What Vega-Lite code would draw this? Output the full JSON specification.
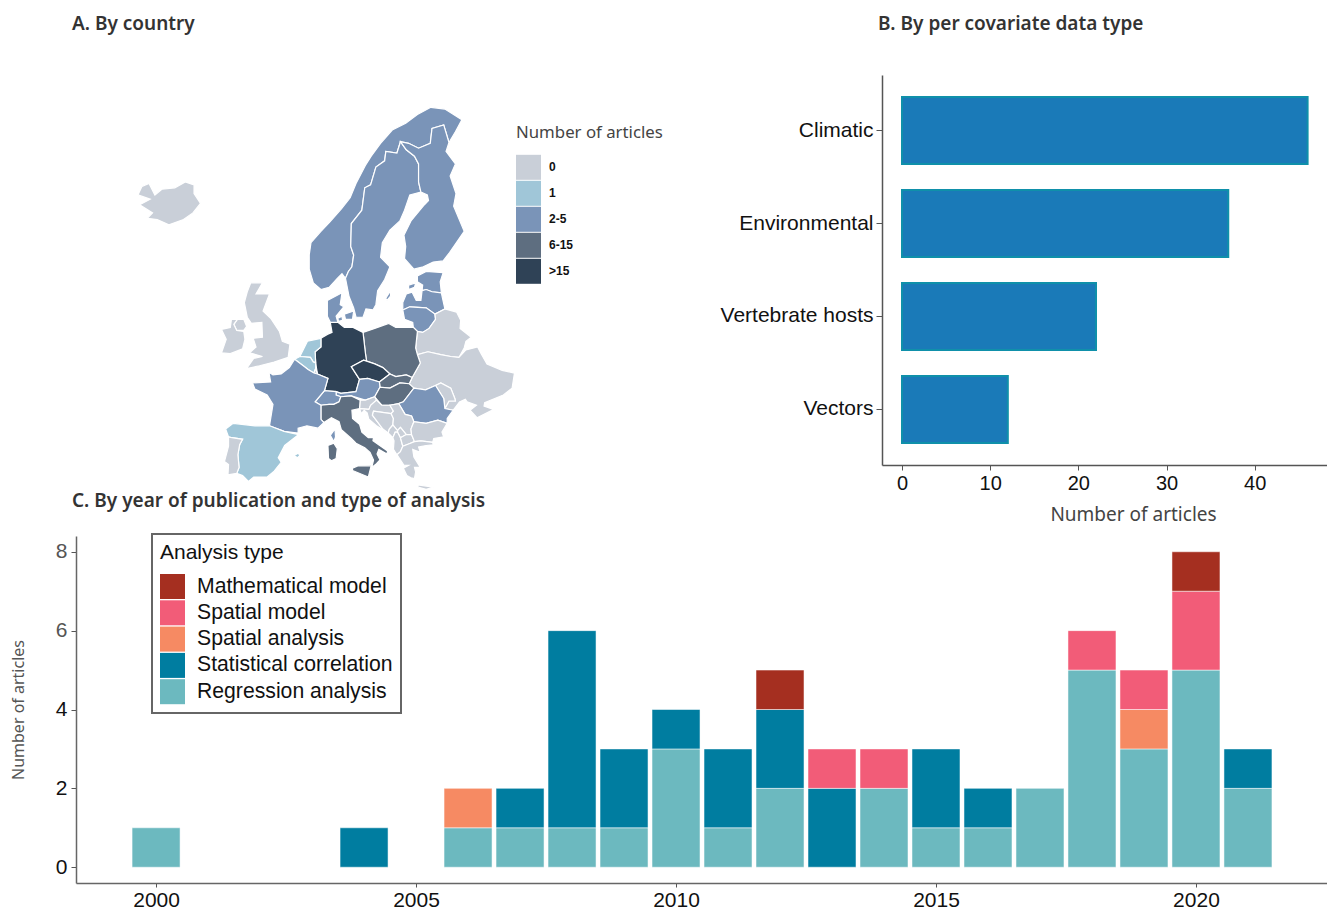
{"$schema":"https://vega.github.io/schema/vega-lite/v6.json","padding":{"left":10,"top":15,"right":0,"bottom":0},"background":"white","bounds":"flush","spacing":461,"resolve":{"scale":{"color":"independent"},"legend":{"color":"independent"}},"config":{"view":{"stroke":null},"concat":{"spacing":0},"font":"Liberation Sans","legend":{"strokeWidth":2}},"vconcat":[{"bounds":"flush","spacing":0,"resolve":{"scale":{"color":"independent"},"legend":{"color":"independent"}},"hconcat":[{"width":806,"height":390,"title":{"text":"A. By country","anchor":"start","frame":"group","dx":-4,"offset":41,"font":"Noto Sans","fontSize":19,"fontWeight":600,"color":"#333333"},"projection":{"type":"mercator","scale":335,"translate":[204,633]},"data":{"values":[
{"type":"Feature","properties":{"name":"Iceland","cat":"0"},"geometry":{"type":"Polygon","coordinates":[[[-22.7,63.9],[-21.8,64.3],[-24.0,64.9],[-22.2,65.3],[-24.3,65.6],[-23.6,66.2],[-22.4,66.4],[-21.4,65.6],[-20.2,66.0],[-18.0,66.1],[-16.2,66.5],[-14.7,66.3],[-14.7,65.7],[-13.6,65.0],[-14.9,64.3],[-16.5,63.8],[-19.0,63.4],[-21.0,63.8],[-22.7,63.9]]]}},
{"type":"Feature","properties":{"name":"Norway","cat":"2-5"},"geometry":{"type":"Polygon","coordinates":[[[7.0,58.0],[5.7,58.6],[5.0,59.8],[5.0,61.0],[5.3,62.0],[7.0,62.9],[8.5,63.6],[10.5,64.6],[12.0,65.4],[13.0,66.4],[14.6,67.6],[15.6,68.2],[17.2,69.0],[19.2,69.8],[21.5,70.2],[23.5,70.7],[25.8,71.1],[28.2,71.0],[31.1,70.4],[30.0,69.7],[28.9,69.05],[28.0,70.1],[26.0,69.9],[25.7,69.0],[23.7,68.7],[22.0,69.0],[20.6,69.1],[20.0,68.4],[18.1,68.5],[17.9,67.9],[16.4,67.5],[15.5,66.3],[14.5,66.1],[14.0,64.5],[12.2,63.5],[12.1,61.7],[12.6,61.0],[12.3,60.0],[11.7,59.6],[11.2,59.0],[10.6,59.4],[9.8,59.0],[8.4,58.2],[7.0,58.0]]]}},
{"type":"Feature","properties":{"name":"Sweden","cat":"2-5"},"geometry":{"type":"MultiPolygon","coordinates":[[[[11.2,59.0],[11.7,59.6],[12.3,60.0],[12.6,61.0],[12.1,61.7],[12.2,63.5],[14.0,64.5],[14.5,66.1],[15.5,66.3],[16.4,67.5],[17.9,67.9],[18.1,68.5],[20.0,68.4],[20.6,69.1],[21.6,68.6],[23.0,68.2],[23.7,67.7],[23.7,66.5],[24.1,65.8],[22.2,65.6],[21.3,64.5],[20.5,63.7],[18.8,63.0],[17.5,62.0],[17.2,60.8],[18.8,60.0],[17.9,58.9],[16.7,57.9],[16.4,56.6],[15.9,56.1],[14.7,56.2],[14.2,55.4],[13.0,55.4],[12.6,56.3],[11.8,57.4],[11.2,59.0]]],[[[18.1,57.2],[18.9,57.9],[18.9,57.4],[18.3,57.0],[18.1,57.2]]]]}},
{"type":"Feature","properties":{"name":"Finland","cat":"2-5"},"geometry":{"type":"Polygon","coordinates":[[[20.6,69.1],[22.0,69.0],[23.7,68.7],[25.7,69.0],[26.0,69.9],[28.0,70.1],[28.9,69.05],[28.4,68.5],[30.0,67.7],[29.1,66.9],[30.1,65.7],[29.7,64.8],[31.5,62.9],[29.0,61.2],[27.9,60.5],[26.2,60.4],[24.5,60.0],[22.9,59.8],[21.3,60.7],[21.5,61.7],[21.2,62.6],[22.4,63.7],[24.7,64.9],[25.4,65.2],[25.2,65.6],[24.1,65.8],[23.7,66.5],[23.7,67.7],[23.0,68.2],[21.6,68.6],[20.6,69.1]]]}},
{"type":"Feature","properties":{"name":"Estonia","cat":"2-5"},"geometry":{"type":"MultiPolygon","coordinates":[[[[23.5,58.7],[23.5,59.2],[25.0,59.6],[27.9,59.5],[27.4,58.7],[27.6,57.7],[26.0,57.8],[25.0,58.0],[24.3,57.9],[24.4,58.4],[23.5,58.7]]],[[[22.0,58.4],[23.2,58.6],[23.0,58.2],[22.0,58.0],[22.0,58.4]]]]}},
{"type":"Feature","properties":{"name":"Latvia","cat":"2-5"},"geometry":{"type":"Polygon","coordinates":[[[21.0,56.8],[21.6,57.6],[22.6,57.75],[23.3,57.0],[24.1,57.0],[24.3,57.9],[25.0,58.0],[26.0,57.8],[27.6,57.7],[27.8,57.2],[28.2,56.2],[26.5,55.7],[25.0,56.3],[22.2,56.4],[21.0,56.1],[21.0,56.8]]]}},
{"type":"Feature","properties":{"name":"Lithuania","cat":"2-5"},"geometry":{"type":"Polygon","coordinates":[[[21.0,56.1],[22.2,56.4],[25.0,56.3],[26.5,55.7],[26.6,55.2],[25.5,54.3],[24.4,53.9],[23.5,54.0],[22.8,54.4],[22.7,54.9],[21.3,55.2],[21.0,56.1]]]}},
{"type":"Feature","properties":{"name":"Belarus","cat":"0"},"geometry":{"type":"Polygon","coordinates":[[[23.2,52.3],[23.5,54.0],[24.4,53.9],[25.5,54.3],[26.6,55.2],[26.5,55.7],[28.2,56.2],[30.2,55.9],[30.9,55.1],[30.8,54.3],[32.7,53.4],[31.8,53.0],[31.5,52.3],[30.6,51.3],[29.2,51.4],[27.5,51.6],[25.3,51.9],[23.5,51.6],[23.2,52.3]]]}},
{"type":"Feature","properties":{"name":"Ukraine","cat":"0"},"geometry":{"type":"Polygon","coordinates":[[[22.1,48.4],[22.6,49.1],[24.0,50.7],[23.5,51.6],[25.3,51.9],[27.5,51.6],[29.2,51.4],[30.6,51.3],[31.8,52.1],[33.8,52.4],[34.4,51.7],[35.4,50.6],[38.0,49.9],[40.1,49.6],[39.7,47.9],[38.2,47.1],[35.0,46.2],[34.9,45.8],[36.5,45.4],[35.4,45.0],[33.7,44.4],[32.5,45.3],[33.6,45.9],[32.0,46.3],[31.7,46.6],[30.7,46.3],[29.6,45.3],[28.2,45.5],[28.9,46.4],[30.0,46.4],[29.9,46.7],[29.2,47.9],[27.5,48.5],[26.6,48.2],[24.9,47.7],[22.9,47.9],[22.1,48.4]]]}},
{"type":"Feature","properties":{"name":"Moldova","cat":"0"},"geometry":{"type":"Polygon","coordinates":[[[26.6,48.2],[27.5,48.5],[29.2,47.9],[29.9,46.7],[30.0,46.4],[28.9,46.4],[28.2,45.5],[28.0,46.7],[26.6,48.2]]]}},
{"type":"Feature","properties":{"name":"Poland","cat":"6-15"},"geometry":{"type":"Polygon","coordinates":[[[14.2,53.9],[16.2,54.3],[18.6,54.8],[19.8,54.4],[22.8,54.4],[23.5,54.0],[23.2,52.3],[23.5,51.6],[24.0,50.7],[22.6,49.1],[21.6,49.4],[19.8,49.2],[18.8,49.5],[17.6,50.2],[16.2,50.6],[14.8,50.9],[14.6,51.8],[14.2,53.9]]]}},
{"type":"Feature","properties":{"name":"Germany","cat":">15"},"geometry":{"type":"Polygon","coordinates":[[[7.0,53.3],[8.1,53.7],[8.9,53.9],[8.6,54.9],[9.9,54.9],[11.0,54.4],[12.5,54.4],[14.2,53.9],[14.6,51.8],[14.8,50.9],[14.3,51.0],[12.2,50.3],[13.6,48.9],[13.0,47.5],[10.4,47.3],[9.6,47.5],[7.6,47.6],[8.2,49.0],[6.4,49.5],[6.1,50.7],[6.0,51.9],[7.0,52.4],[7.0,53.3]]]}},
{"type":"Feature","properties":{"name":"Czechia","cat":">15"},"geometry":{"type":"Polygon","coordinates":[[[12.2,50.3],[14.3,51.0],[14.8,50.9],[16.2,50.6],[17.6,50.2],[18.8,49.5],[17.0,48.6],[15.0,49.0],[13.6,48.9],[12.2,50.3]]]}},
{"type":"Feature","properties":{"name":"Slovakia","cat":"6-15"},"geometry":{"type":"Polygon","coordinates":[[[17.0,48.6],[18.8,49.5],[19.8,49.2],[21.6,49.4],[22.6,49.1],[22.1,48.4],[20.5,48.5],[18.8,47.9],[17.1,48.0],[17.0,48.6]]]}},
{"type":"Feature","properties":{"name":"Austria","cat":"2-5"},"geometry":{"type":"Polygon","coordinates":[[[9.6,47.5],[10.4,47.3],[13.0,47.5],[13.6,48.9],[15.0,49.0],[17.0,48.6],[17.1,48.0],[16.2,46.9],[14.6,46.5],[12.2,47.0],[10.4,46.9],[9.6,47.1],[9.6,47.5]]]}},
{"type":"Feature","properties":{"name":"Switzerland","cat":"2-5"},"geometry":{"type":"Polygon","coordinates":[[[6.0,46.3],[7.6,47.6],[9.6,47.5],[9.6,47.1],[10.4,46.9],[10.1,46.3],[9.2,46.0],[8.4,46.0],[7.0,45.9],[6.0,46.3]]]}},
{"type":"Feature","properties":{"name":"Hungary","cat":"6-15"},"geometry":{"type":"Polygon","coordinates":[[[16.2,46.9],[17.1,48.0],[18.8,47.9],[20.5,48.5],[22.1,48.4],[22.9,47.9],[21.1,46.3],[20.3,46.1],[18.8,45.9],[17.4,45.9],[16.2,46.9]]]}},
{"type":"Feature","properties":{"name":"Romania","cat":"2-5"},"geometry":{"type":"Polygon","coordinates":[[[20.3,46.1],[21.1,46.3],[22.9,47.9],[24.9,47.7],[26.6,48.2],[28.0,46.7],[28.2,45.5],[29.6,45.3],[28.6,44.3],[28.6,43.7],[27.0,44.1],[25.0,43.7],[22.9,43.9],[22.5,44.6],[21.4,44.8],[20.3,46.1]]]}},
{"type":"Feature","properties":{"name":"Slovenia","cat":"0"},"geometry":{"type":"Polygon","coordinates":[[[13.6,45.5],[13.7,46.5],[14.6,46.5],[16.2,46.9],[16.5,46.5],[15.5,45.9],[15.2,45.4],[13.6,45.5]]]}},
{"type":"Feature","properties":{"name":"Croatia","cat":"0"},"geometry":{"type":"Polygon","coordinates":[[[13.6,45.5],[15.2,45.4],[15.5,45.9],[16.5,46.5],[17.4,45.9],[18.8,45.9],[19.4,45.2],[19.0,44.9],[16.0,45.2],[15.8,44.7],[17.6,43.0],[18.5,42.5],[16.5,43.4],[15.2,44.2],[14.9,45.0],[14.4,45.3],[13.9,44.9],[13.6,45.5]]]}},
{"type":"Feature","properties":{"name":"Bosnia and Herzegovina","cat":"0"},"geometry":{"type":"Polygon","coordinates":[[[16.0,45.2],[19.0,44.9],[19.4,44.3],[19.3,43.5],[18.7,43.0],[18.5,42.5],[17.6,43.0],[15.8,44.7],[16.0,45.2]]]}},
{"type":"Feature","properties":{"name":"Serbia","cat":"0"},"geometry":{"type":"Polygon","coordinates":[[[19.0,44.9],[19.4,45.2],[18.8,45.9],[20.3,46.1],[21.4,44.8],[22.5,44.6],[22.9,43.9],[22.4,43.0],[22.5,42.3],[21.6,42.3],[20.6,43.2],[20.1,42.8],[19.3,43.5],[19.4,44.3],[19.0,44.9]]]}},
{"type":"Feature","properties":{"name":"Kosovo","cat":"0"},"geometry":{"type":"Polygon","coordinates":[[[20.1,42.6],[20.1,42.8],[20.6,43.2],[21.6,42.3],[20.6,41.9],[20.1,42.6]]]}},
{"type":"Feature","properties":{"name":"Montenegro","cat":"0"},"geometry":{"type":"Polygon","coordinates":[[[18.5,42.5],[18.7,43.0],[19.3,43.5],[20.1,42.8],[20.1,42.6],[19.7,42.6],[19.3,41.9],[18.5,42.5]]]}},
{"type":"Feature","properties":{"name":"Albania","cat":"0"},"geometry":{"type":"Polygon","coordinates":[[[19.3,41.9],[19.7,42.6],[20.1,42.6],[20.6,41.9],[21.0,40.8],[20.6,40.1],[20.0,39.7],[19.4,40.4],[19.5,41.5],[19.3,41.9]]]}},
{"type":"Feature","properties":{"name":"North Macedonia","cat":"0"},"geometry":{"type":"Polygon","coordinates":[[[20.6,41.9],[21.6,42.3],[22.5,42.3],[23.0,41.4],[22.0,41.1],[21.0,40.8],[20.6,41.9]]]}},
{"type":"Feature","properties":{"name":"Bulgaria","cat":"0"},"geometry":{"type":"Polygon","coordinates":[[[22.5,42.3],[22.4,43.0],[22.9,43.9],[25.0,43.7],[27.0,44.1],[28.6,43.7],[27.7,42.6],[28.0,42.0],[26.3,41.8],[26.1,41.3],[24.1,41.5],[23.0,41.4],[22.5,42.3]]]}},
{"type":"Feature","properties":{"name":"Greece","cat":"0"},"geometry":{"type":"MultiPolygon","coordinates":[[[[20.0,39.7],[20.6,40.1],[21.0,40.8],[22.0,41.1],[23.0,41.4],[24.1,41.5],[26.1,41.3],[26.2,41.0],[25.0,40.9],[23.7,40.7],[24.0,40.0],[22.7,40.4],[22.9,39.4],[24.0,38.0],[23.0,38.0],[23.2,37.4],[23.0,36.5],[22.4,36.6],[21.7,36.9],[21.1,37.9],[22.0,38.3],[21.2,38.3],[20.7,38.9],[20.0,39.7]]],[[[23.6,35.6],[25.0,35.45],[26.3,35.3],[25.0,35.0],[23.6,35.3],[23.6,35.6]]]]}},
{"type":"Feature","properties":{"name":"Italy","cat":"6-15"},"geometry":{"type":"MultiPolygon","coordinates":[[[[7.5,43.8],[7.0,44.2],[7.0,45.0],[7.0,45.9],[8.4,46.0],[9.2,46.0],[10.1,46.3],[10.4,46.9],[12.2,47.0],[13.7,46.5],[13.6,45.5],[12.3,45.3],[12.4,44.3],[13.6,43.6],[14.0,42.6],[15.1,41.9],[16.0,41.9],[15.9,41.5],[18.4,40.2],[18.3,39.8],[16.9,40.4],[16.6,39.8],[17.1,39.0],[16.5,38.5],[15.7,38.0],[16.0,39.0],[15.4,40.0],[14.5,40.6],[13.0,41.2],[12.2,41.8],[10.5,42.9],[10.1,43.9],[8.8,44.4],[7.5,43.8]]],[[[12.4,37.9],[13.3,38.2],[15.6,38.25],[15.1,36.7],[12.4,37.6],[12.4,37.9]]],[[[8.3,39.2],[8.2,40.9],[9.2,41.2],[9.8,40.5],[9.6,39.2],[8.8,38.9],[8.3,39.2]]]]}},
{"type":"Feature","properties":{"name":"Netherlands","cat":"1"},"geometry":{"type":"Polygon","coordinates":[[[3.4,51.4],[4.7,53.0],[7.0,53.3],[7.0,52.4],[6.0,51.9],[6.1,50.8],[5.7,50.8],[5.2,51.3],[3.4,51.4]]]}},
{"type":"Feature","properties":{"name":"Belgium","cat":"1"},"geometry":{"type":"Polygon","coordinates":[[[2.5,51.1],[3.4,51.4],[5.2,51.3],[5.7,50.8],[6.1,50.7],[6.1,50.1],[5.8,49.6],[4.8,50.0],[4.2,50.3],[2.5,51.1]]]}},
{"type":"Feature","properties":{"name":"Luxembourg","cat":"0"},"geometry":{"type":"Polygon","coordinates":[[[5.8,49.6],[6.1,50.1],[6.4,49.5],[6.1,49.45],[5.8,49.6]]]}},
{"type":"Feature","properties":{"name":"France","cat":"2-5"},"geometry":{"type":"MultiPolygon","coordinates":[[[[2.5,51.1],[4.2,50.3],[4.8,50.0],[5.8,49.6],[6.4,49.5],[8.2,49.0],[7.6,47.6],[6.0,46.3],[7.0,45.9],[7.0,45.0],[7.0,44.2],[7.5,43.8],[6.5,43.1],[4.6,43.4],[3.1,43.1],[3.1,42.5],[0.7,42.7],[-1.8,43.4],[-1.2,46.0],[-2.2,47.1],[-4.3,47.8],[-4.7,48.5],[-1.6,48.6],[-1.9,49.7],[-1.2,49.4],[0.2,49.5],[1.6,50.2],[2.5,51.1]]],[[[8.6,42.2],[9.4,43.0],[9.5,42.0],[9.2,41.4],[8.6,42.2]]]]}},
{"type":"Feature","properties":{"name":"Spain","cat":"1"},"geometry":{"type":"MultiPolygon","coordinates":[[[[-8.8,42.0],[-9.3,43.0],[-8.0,43.7],[-4.3,43.4],[-1.8,43.4],[0.7,42.7],[3.2,42.3],[0.8,40.9],[-0.3,39.3],[0.2,38.7],[-1.0,37.5],[-2.2,36.7],[-4.5,36.7],[-5.4,36.1],[-6.4,36.9],[-7.4,37.2],[-7.0,38.0],[-7.2,39.7],[-6.9,41.0],[-6.4,41.7],[-8.2,41.9],[-8.8,42.0]]],[[[2.4,39.6],[3.1,39.9],[3.4,39.6],[3.0,39.3],[2.4,39.6]]]]}},
{"type":"Feature","properties":{"name":"Portugal","cat":"0"},"geometry":{"type":"Polygon","coordinates":[[[-8.8,42.0],[-8.2,41.9],[-6.4,41.7],[-6.9,41.0],[-7.2,39.7],[-7.0,38.0],[-7.4,37.2],[-8.9,37.0],[-8.8,38.4],[-9.5,38.8],[-8.8,40.8],[-8.8,42.0]]]}},
{"type":"Feature","properties":{"name":"United Kingdom","cat":"0"},"geometry":{"type":"MultiPolygon","coordinates":[[[[-5.7,50.1],[-4.5,51.2],[-3.0,51.4],[-5.2,51.8],[-4.1,52.4],[-4.6,53.3],[-3.0,53.4],[-3.1,54.9],[-4.9,54.8],[-5.6,55.4],[-6.1,56.8],[-5.6,57.8],[-5.0,58.6],[-3.0,58.6],[-4.1,57.6],[-1.8,57.6],[-2.9,56.0],[-1.6,55.3],[-0.1,54.0],[0.4,53.0],[1.7,52.7],[1.4,51.3],[-1.0,50.8],[-3.5,50.4],[-5.7,50.1]]],[[[-7.4,54.1],[-7.9,54.7],[-7.3,55.2],[-6.2,55.2],[-5.7,54.5],[-6.2,54.1],[-7.4,54.1]]]]}},
{"type":"Feature","properties":{"name":"Ireland","cat":"0"},"geometry":{"type":"Polygon","coordinates":[[[-10.0,51.8],[-9.2,53.2],[-10.0,54.2],[-8.5,54.4],[-8.3,55.2],[-7.3,55.2],[-7.9,54.7],[-7.4,54.1],[-6.2,54.0],[-6.0,53.2],[-6.4,52.2],[-8.5,51.7],[-10.0,51.8]]]}},
{"type":"Feature","properties":{"name":"Denmark","cat":"2-5"},"geometry":{"type":"MultiPolygon","coordinates":[[[[8.1,55.5],[8.1,57.0],[10.6,57.7],[10.3,56.6],[10.9,56.4],[9.6,55.5],[9.9,54.9],[8.6,54.9],[8.1,55.5]]],[[[11.0,55.7],[12.6,56.0],[12.4,55.2],[11.2,55.2],[11.0,55.7]]],[[[9.9,55.3],[10.6,55.5],[10.7,55.1],[10.0,55.0],[9.9,55.3]]]]}}
]},"mark":{"type":"geoshape","clip":false,"stroke":"#ffffff","strokeWidth":1.2},"encoding":{"color":{"field":"properties.cat","type":"nominal","scale":{"domain":["0","1","2-5","6-15",">15"],"range":["#c9cfd8","#a0c6d8","#7a94b8","#5e6e80","#2f4256"]},"legend":{"orient":"none","legendX":440,"legendY":50,"title":"Number of articles","titleFont":"Noto Sans","titleFontSize":16.8,"titleFontWeight":"normal","titleColor":"#444444","titlePadding":13,"symbolType":"square","symbolSize":625,"symbolStrokeWidth":0,"rowPadding":1,"labelFont":"Liberation Sans","labelFontSize":12,"labelFontWeight":"bold","labelColor":"#111111","labelOffset":8}}}},
{"width":445,"height":390,"title":{"text":"B. By per covariate data type","anchor":"start","frame":"group","dx":-4,"offset":41,"font":"Noto Sans","fontSize":19,"fontWeight":600,"color":"#333333"},"data":{"values":[{"covariate":"Climatic","articles":46},{"covariate":"Environmental","articles":37},{"covariate":"Vertebrate hosts","articles":22},{"covariate":"Vectors","articles":12}]},"mark":{"type":"bar","fill":"#1a7ab8","stroke":"#0f90aa","strokeWidth":2},"encoding":{"y":{"field":"covariate","type":"nominal","sort":["Climatic","Environmental","Vertebrate hosts","Vectors"],"scale":{"paddingInner":0.28,"paddingOuter":0.237},"axis":{"title":null,"labelFontSize":21,"labelColor":"#111111","labelLimit":300,"labelPadding":3,"domainColor":"#555555","domainWidth":1.5,"tickColor":"#555555","tickSize":6}},"x":{"field":"articles","type":"quantitative","scale":{"domain":[-2.27,48.2],"nice":false,"zero":false},"axis":{"values":[0,10,20,30,40],"title":"Number of articles","titleFont":"Noto Sans","titleFontSize":19,"titleFontWeight":"normal","titleColor":"#444444","titlePadding":12,"titleX":251,"labelFontSize":20,"labelColor":"#111111","labelPadding":3,"grid":false,"domainColor":"#555555","domainWidth":1.5,"tickColor":"#555555","tickSize":5}}}}]},
{"width":1251,"height":347,"title":{"text":"C. By year of publication and type of analysis","anchor":"start","frame":"group","dx":-4,"offset":22,"font":"Noto Sans","fontSize":19,"fontWeight":600,"color":"#333333"},"data":{"values":[{"year":2000,"type":"Regression analysis","rank":1,"n":1},{"year":2004,"type":"Statistical correlation","rank":2,"n":1},{"year":2006,"type":"Regression analysis","rank":1,"n":1},{"year":2006,"type":"Spatial analysis","rank":3,"n":1},{"year":2007,"type":"Regression analysis","rank":1,"n":1},{"year":2007,"type":"Statistical correlation","rank":2,"n":1},{"year":2008,"type":"Regression analysis","rank":1,"n":1},{"year":2008,"type":"Statistical correlation","rank":2,"n":5},{"year":2009,"type":"Regression analysis","rank":1,"n":1},{"year":2009,"type":"Statistical correlation","rank":2,"n":2},{"year":2010,"type":"Regression analysis","rank":1,"n":3},{"year":2010,"type":"Statistical correlation","rank":2,"n":1},{"year":2011,"type":"Regression analysis","rank":1,"n":1},{"year":2011,"type":"Statistical correlation","rank":2,"n":2},{"year":2012,"type":"Regression analysis","rank":1,"n":2},{"year":2012,"type":"Statistical correlation","rank":2,"n":2},{"year":2012,"type":"Mathematical model","rank":5,"n":1},{"year":2013,"type":"Statistical correlation","rank":2,"n":2},{"year":2013,"type":"Spatial model","rank":4,"n":1},{"year":2014,"type":"Regression analysis","rank":1,"n":2},{"year":2014,"type":"Spatial model","rank":4,"n":1},{"year":2015,"type":"Regression analysis","rank":1,"n":1},{"year":2015,"type":"Statistical correlation","rank":2,"n":2},{"year":2016,"type":"Regression analysis","rank":1,"n":1},{"year":2016,"type":"Statistical correlation","rank":2,"n":1},{"year":2017,"type":"Regression analysis","rank":1,"n":2},{"year":2018,"type":"Regression analysis","rank":1,"n":5},{"year":2018,"type":"Spatial model","rank":4,"n":1},{"year":2019,"type":"Regression analysis","rank":1,"n":3},{"year":2019,"type":"Spatial analysis","rank":3,"n":1},{"year":2019,"type":"Spatial model","rank":4,"n":1},{"year":2020,"type":"Regression analysis","rank":1,"n":5},{"year":2020,"type":"Spatial model","rank":4,"n":2},{"year":2020,"type":"Mathematical model","rank":5,"n":1},{"year":2021,"type":"Regression analysis","rank":1,"n":2},{"year":2021,"type":"Statistical correlation","rank":2,"n":1}]},"mark":{"type":"bar","width":48,"stroke":"#ffffff","strokeOpacity":0.5,"strokeWidth":1},"encoding":{"x":{"field":"year","type":"quantitative","scale":{"domain":[1998.46,2022.52],"nice":false,"zero":false,"padding":0},"axis":{"values":[2000,2005,2010,2015,2020],"format":"d","title":null,"grid":false,"labelFontSize":21,"labelColor":"#111111","labelPadding":2,"domainColor":"#666666","domainWidth":1.5,"tickColor":"#555555","tickSize":4}},"y":{"field":"n","type":"quantitative","stack":"zero","scale":{"domain":[-0.4,8.4],"nice":false,"zero":false},"axis":{"values":[0,2,4,6,8],"format":"d","title":"Number of articles","titleFont":"Noto Sans","titleFontSize":16,"titleFontWeight":"normal","titleColor":"#555555","titlePadding":29,"grid":false,"labelFontSize":21,"labelColor":{"expr":"datum.value>=6?'#555555':'#111111'"},"labelPadding":4,"domainColor":"#666666","domainWidth":1.5,"tickColor":"#555555","tickSize":5}},"order":{"field":"rank","type":"quantitative"},"color":{"field":"type","type":"nominal","scale":{"domain":["Mathematical model","Spatial model","Spatial analysis","Statistical correlation","Regression analysis"],"range":["#a52f20","#f25c78","#f68a63","#007da0","#6cb9bf"]},"legend":{"orient":"none","legendX":76,"legendY":-2,"title":"Analysis type","titleFont":"Liberation Sans","titleFontSize":21,"titleFontWeight":"normal","titleColor":"#111111","titlePadding":11,"fillColor":"#ffffff","strokeColor":"#666666","padding":8,"symbolType":"square","symbolSize":625,"symbolStrokeWidth":0,"symbolOpacity":1,"rowPadding":1.3,"labelFont":"Liberation Sans","labelFontSize":21.2,"labelColor":"#111111","labelLimit":300,"labelOffset":12}}}}]}
